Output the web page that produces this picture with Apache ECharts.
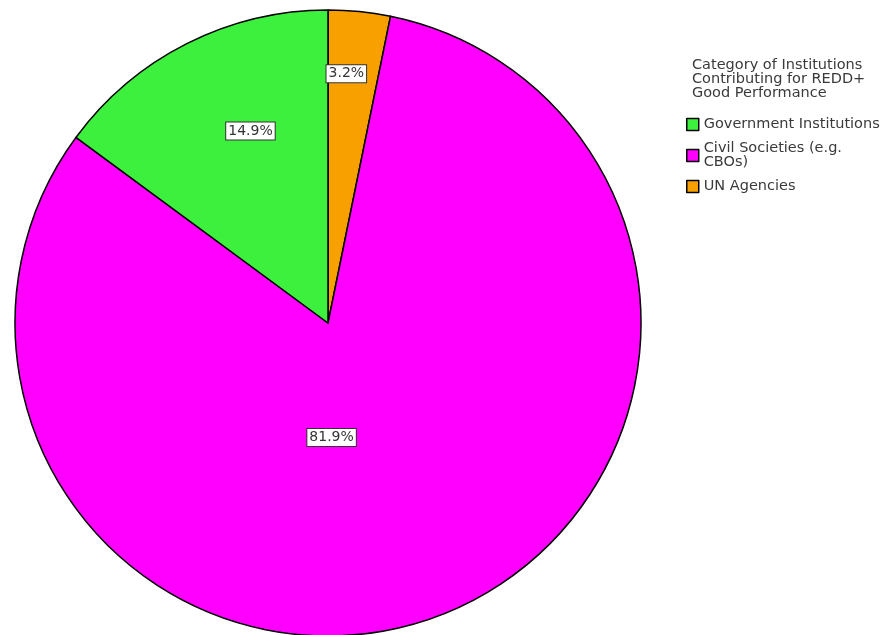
<!DOCTYPE html>
<html>
<head>
<meta charset="utf-8">
<script src="https://cdn.jsdelivr.net/npm/echarts@6/dist/echarts.min.js"></script>
<style>html,body{margin:0;padding:0;background:#fff;}#c{width:883px;height:635px;}</style>
</head>
<body>
<div id="c"></div>
<script>
// Data (slice order clockwise from 12 o'clock)
var categories = ['UN Agencies', 'Civil Societies (e.g.\nCBOs)', 'Government Institutions'];
var percentages = [3.2, 81.9, 14.9];
var legendOrder = ['Government Institutions', 'Civil Societies (e.g.\nCBOs)', 'UN Agencies'];
var legendTitle = 'Category of Institutions\nContributing for REDD+\nGood Performance';

// Styling / layout
var sliceColors = ['#F7A000', '#FF00FF', '#3EF03E'];
var CX = 328, CY = 323, R = 313;
// label placement: radius (fraction of R) and angle (deg clockwise from 12 o'clock)
var labelPlacement = [
  {rf: 250 / 313, ang: 4.2},
  {rf: 114.5 / 313, ang: 178.2},
  {rf: 207 / 313, ang: -22.0}
];
var FONT = 'DejaVu Sans, Liberation Sans, Arial';

var chart = echarts.init(document.getElementById('c'));
chart.setOption({
  backgroundColor: '#fff',
  animation: false,
  title: {
    text: legendTitle,
    left: 687, top: 53,
    textStyle: {fontFamily: FONT, fontSize: 14.5, fontWeight: 'normal', color: '#3a3a3a', lineHeight: 14}
  },
  legend: {
    orient: 'vertical',
    left: 681, top: 112,
    itemWidth: 12, itemHeight: 12,
    itemGap: 9,
    data: legendOrder,
    icon: 'rect',
    selectedMode: false,
    textStyle: {fontFamily: FONT, fontSize: 14.5, color: '#3a3a3a', lineHeight: 14},
    itemStyle: {borderColor: '#000', borderWidth: 1.5}
  },
  series: [{
    type: 'pie',
    center: [CX, CY],
    radius: [0, R],
    startAngle: 90,
    clockwise: true,
    avoidLabelOverlap: false,
    data: categories.map(function (n, i) {
      return {name: n, value: percentages[i], itemStyle: {color: sliceColors[i]}};
    }),
    itemStyle: {borderColor: '#000', borderWidth: 1.5},
    label: {
      show: true,
      position: 'inside',
      formatter: function (p) { return p.value.toFixed(1) + '%'; },
      fontFamily: FONT,
      fontSize: 14,
      color: '#333',
      backgroundColor: '#fff',
      borderColor: '#333',
      borderWidth: 1,
      padding: [2, 2, 1, 2]
    },
    labelLine: {show: false},
    emphasis: {disabled: true},
    labelLayout: function (params) {
      var lr = params.labelRect;
      var lx = lr.x + lr.width / 2, ly = lr.y + lr.height / 2;
      var pl = labelPlacement[params.dataIndex];
      var a = pl.ang * Math.PI / 180;
      var tx = CX + Math.sin(a) * pl.rf * R;
      var ty = CY - Math.cos(a) * pl.rf * R;
      return {dx: tx - lx, dy: ty - ly};
    }
  }]
});
</script>
</body>
</html>
